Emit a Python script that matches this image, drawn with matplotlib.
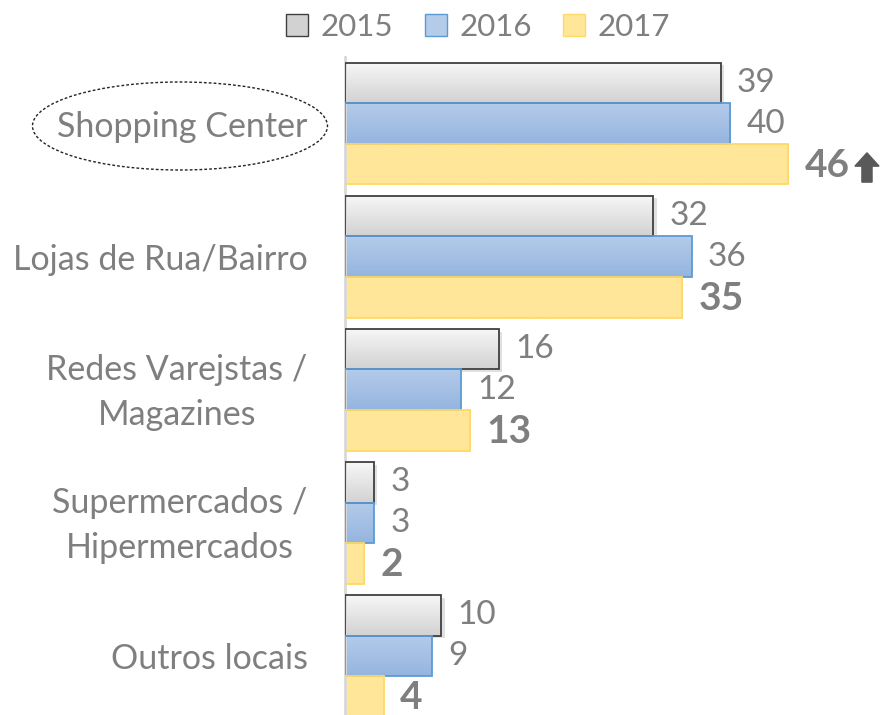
import numpy as np
import matplotlib
matplotlib.use("Agg")
import matplotlib.pyplot as plt
import matplotlib.transforms as mtransforms
from matplotlib.patches import Patch, Ellipse, FancyArrow, Rectangle
from matplotlib.colors import LinearSegmentedColormap

plt.rcParams['font.family'] = ['Lato', 'DejaVu Sans']

# data
categories = ['Shopping Center', 'Lojas de Rua/Bairro', 'Redes Varejstas /\nMagazines',
              'Supermercados /\nHipermercados', 'Outros locais']
years = ['2015', '2016', '2017']
v2015 = [39, 32, 16, 3, 10]
v2016 = [40, 36, 12, 3, 9]
v2017 = [46, 35, 13, 2, 4]

grey_txt = '#7f7f7f'
styles = [
    dict(top='#f7f7f7', bot='#d2d2d2', edge='#404040'),
    dict(top='#b4cbea', bot='#95b5df', edge='#5b9bd5'),
    dict(top='#ffe699', bot='#ffe699', edge='#ffd966'),
]

fig = plt.figure(figsize=(8.8, 7.15), dpi=100)
W, H = 880, 715
# axes spans pixel x 345..880, y 57..722
ax = fig.add_axes([345 / W, (H - 722.5) / H, (880 - 345) / W, (722.5 - 57) / H])

h = 0.305
y = np.arange(len(categories))
series = [v2015, v2016, v2017]

for k, vals in enumerate(series):
    st = styles[k]
    cmap = LinearSegmentedColormap.from_list('g%d' % k, [st['top'], st['bot']])
    pos = y + (k - 1) * h
    if k == 0:
        # soft shadow behind the 2015 bars
        for v, p in zip(vals, pos):
            ax.add_patch(Rectangle((0, p - h / 2 + 0.02), v + 0.35, h, facecolor='#000000',
                                   alpha=0.12, edgecolor='none', zorder=1))
    bars = ax.barh(pos, vals, height=h, color='none', edgecolor=st['edge'], linewidth=1.3, zorder=3)
    for b in bars:
        x0, y0 = b.get_x(), b.get_y()
        grad = np.linspace(0, 1, 64).reshape(-1, 1)
        im = ax.imshow(grad, cmap=cmap, aspect='auto', zorder=2,
                       extent=[x0, x0 + b.get_width(), y0 + b.get_height(), y0],
                       interpolation='bilinear')
        im.set_clip_path(b)
    for v, p in zip(vals, pos):
        bold = k == 2
        ax.text(v + 1.7, p + (0.01 if bold else 0), str(v), va='center', ha='left',
                fontsize=28 if bold else 24, color=grey_txt,
                fontweight='bold' if bold else 'normal', zorder=4)

ax.set_xlim(0, (880 - 344.7) / 9.636)
ax.set_ylim(len(categories) - 0.5, -0.5)
ax.set_yticks(y)
ax.set_yticklabels(categories, fontsize=24.5, color=grey_txt, multialignment='center',
                   linespacing=1.5)
ax.tick_params(axis='y', length=0, pad=27)
ax.set_xticks([])
for s in ['top', 'right', 'bottom']:
    ax.spines[s].set_visible(False)
ax.spines['left'].set_color('#d9d9d9')
ax.spines['left'].set_linewidth(2)

# nudge two-line labels up a little
up = mtransforms.ScaledTranslation(0, 7 / 100, fig.dpi_scale_trans)
for lab in ax.get_yticklabels():
    if '\n' in lab.get_text():
        lab.set_transform(lab.get_transform() + up)

# up arrow next to the 2017 Shopping Center value
ax.add_patch(FancyArrow(v2017[0] + 8.2, 0.44, 0, -0.22, width=1.05, head_width=2.5,
                        head_length=0.1, length_includes_head=True,
                        color='#595959', zorder=5, clip_on=False))

# dashed ellipse around Shopping Center label
fig.patches.append(Ellipse((180 / W, (H - 126) / H), 295 / W, 88 / H, transform=fig.transFigure,
                           fill=False, linestyle=(0, (2, 1.5)), linewidth=1, edgecolor='#222222'))

handles = [Patch(facecolor=st['bot'] if i == 0 else st['top'], edgecolor=st['edge'], label=yr)
           for i, (st, yr) in enumerate(zip(styles, years))]
fig.legend(handles=handles, loc='center', bbox_to_anchor=(478 / W, (H - 27) / H), ncol=3,
           frameon=False, fontsize=22.5, labelcolor=grey_txt, handlelength=0.7, handleheight=0.7,
           handletextpad=0.4, columnspacing=1.0)

fig.savefig('out.png', dpi=100)
